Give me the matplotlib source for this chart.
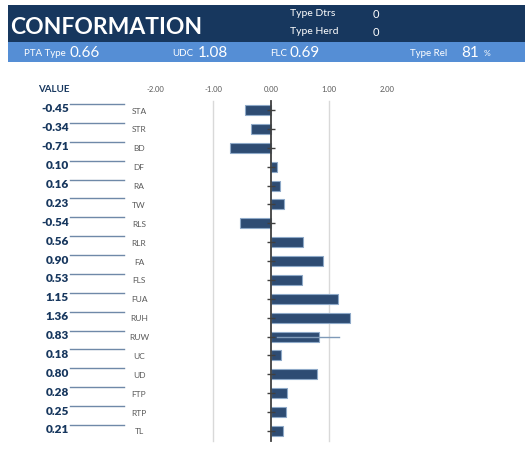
import numpy as np
import matplotlib
matplotlib.use("Agg")
import matplotlib.pyplot as plt
from matplotlib.patches import Rectangle

plt.rcParams['font.family'] = ['Lato', 'DejaVu Sans']

# data
traits = ['STA', 'STR', 'BD', 'DF', 'RA', 'TW', 'RLS', 'RLR', 'FA', 'FLS',
          'FUA', 'RUH', 'RUW', 'UC', 'UD', 'FTP', 'RTP', 'TL']
values = [-0.45, -0.34, -0.71, 0.10, 0.16, 0.23, -0.54, 0.56, 0.90, 0.53,
          1.15, 1.36, 0.83, 0.18, 0.80, 0.28, 0.25, 0.21]
x_ticks = [-2.0, -1.0, 0.0, 1.0, 2.0]
ruw_line = 1.17

header = {'Type Dtrs': '0', 'Type Herd': '0'}
pta_type, udc, flc, type_rel = '0.66', '1.08', '0.69', '81'

NAVY = '#17375E'
BAND = '#558ED5'
BAR = '#2E4C73'

W, H = 525, 452
fig = plt.figure(figsize=(W / 100, H / 100), dpi=100)

# background axes in pixel coordinates
bg = fig.add_axes([0, 0, 1, 1])
bg.set_xlim(0, W)
bg.set_ylim(H, 0)
bg.axis('off')

bg.add_patch(Rectangle((8, 6), W - 8, 37, color=NAVY, lw=0))
bg.add_patch(Rectangle((8, 43), W - 8, 20, color=BAND, lw=0))

bg.text(10, 27, 'CONFORMATION', color='white', fontsize=16.5, fontweight='bold',
        va='center', ha='left')
for i, (k, v) in enumerate(header.items()):
    yy = 14 + i * 18
    bg.text(290, yy, k, color='white', fontsize=7.5, va='center')
    bg.text(373, yy, v, color='white', fontsize=8, va='center')

bg.text(24, 53, 'PTA Type', color='white', fontsize=7, va='center')
bg.text(69, 53, pta_type, color='white', fontsize=11, va='center')
bg.text(172, 53, 'UDC', color='white', fontsize=7, va='center')
bg.text(198, 53, udc, color='white', fontsize=11, va='center')
bg.text(270, 53, 'FLC', color='white', fontsize=7, va='center')
bg.text(290, 53, flc, color='white', fontsize=11, va='center')
bg.text(410, 53, 'Type Rel', color='white', fontsize=7, va='center')
bg.text(461, 53, type_rel, color='white', fontsize=11, va='center')
bg.text(484, 54, '%', color='white', fontsize=6, va='center')

bg.text(54, 90, 'VALUE', color=NAVY, fontsize=7, fontweight='bold',
        ha='center', va='center')

row0, step = 111, 18.88
rows = row0 + np.arange(len(traits)) * step
for y, t, v in zip(rows, traits, values):
    bg.text(69, y - 2, f'{v:.2f}', color=NAVY, fontsize=8.5, fontweight='heavy',
            ha='right', va='center')
    bg.plot([70, 124], [y - 6, y - 6], color='#6F89A8', lw=1)
    bg.text(139, y, t, color='#595959', fontsize=6, ha='center', va='center')

# bar chart axes: same pixel rows, x in data units (58 px per unit, 0 at x=271)
ax = fig.add_axes([0, 0, 1, 1])
ax.set_xlim(-271 / 58, (W - 271) / 58)
ax.set_ylim(H, 0)
ax.axis('off')
ax.patch.set_alpha(0)

for xt in x_ticks:
    ax.text(xt, 90, f'{xt:.2f}', color='#595959', fontsize=5.5,
            ha='center', va='center')
for xt in (-1.0, 1.0):
    ax.plot([xt, xt], [102, 442], color='#D9D9D9', lw=1)

ax.barh(rows, values, height=10, color=BAR, edgecolor='#8EA9C8', lw=0.8,
        zorder=3)

ruw = traits.index('RUW')
ax.plot([0.1, ruw_line], [rows[ruw], rows[ruw]], color='#7F9AB8', lw=1, zorder=4)

ax.plot([0, 0], [102, 442], color='#404040', lw=1.3, zorder=5)
ax.plot(np.zeros(len(rows)), rows, ls='none', marker='_', ms=6,
        color='#404040', mew=1, zorder=5)

fig.savefig('out.png', dpi=100, facecolor='white')
